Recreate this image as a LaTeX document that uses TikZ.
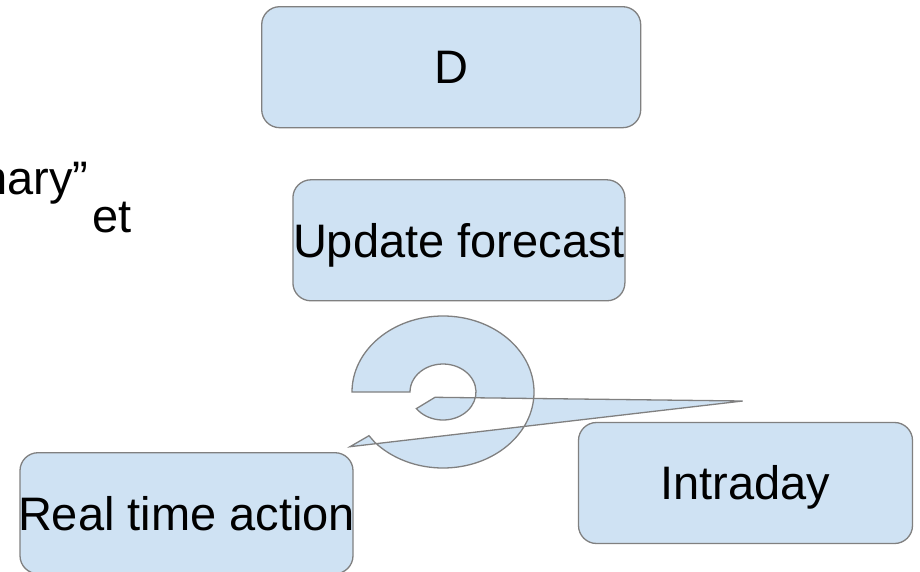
\documentclass[tikz,border=0pt]{standalone}
\usepackage{fontspec}
\setmainfont{Liberation Sans}
\usetikzlibrary{positioning}
\definecolor{slidefill}{RGB}{207,226,243}
\definecolor{slideline}{RGB}{128,128,128}
\tikzset{
	slidebox/.style={draw=slideline, fill=slidefill, line width=1.3pt, rounded corners=18pt, minimum height=121pt, inner xsep=-20pt, inner ysep=0pt, text height=33.6pt, text depth=0pt, font=\fontsize{47}{54}\selectfont},
	slidetext/.style={inner sep=0pt, font=\fontsize{47}{54}\selectfont}
}

\begin{document}
\begin{tikzpicture}[x=1pt, y=1pt]
		%%%%% START %%%%%
		\useasboundingbox (0, 0) rectangle (920, 571);
		\clip (0, 0) rectangle (920, 571);
		
		\node[slidebox, minimum width=379pt] (daily) at (451.2, 503.8) {D};
		\node[slidebox, minimum width=332pt] (update) at (458.9, 330.7) {Update forecast};
		\node[slidebox, minimum width=333pt] (realtime) at (186.5, 57.8) {Real time action};
		\node[slidebox, minimum width=334pt] (intraday) at (745.5, 88) {Intraday};
		
		\node[slidetext, anchor=base west] (notetop) at (-19, 376) {nary”};
		\node[slidetext, anchor=base east] (notebottom) at (132, 338) {et};
		
		% circular arrow
		\draw[line width=1.3pt, draw=slideline, fill=slidefill] (352, 179) arc (180:-138.8:91pt and 76pt) -- (369, 135.3) -- (350, 124.3) -- (742.7, 170) -- (435, 173.7) -- (416.4, 162.4) arc (-143.7:180:33pt and 28pt) -- cycle;
		
		%%%%% END %%%%%
\end{tikzpicture}
\end{document}
